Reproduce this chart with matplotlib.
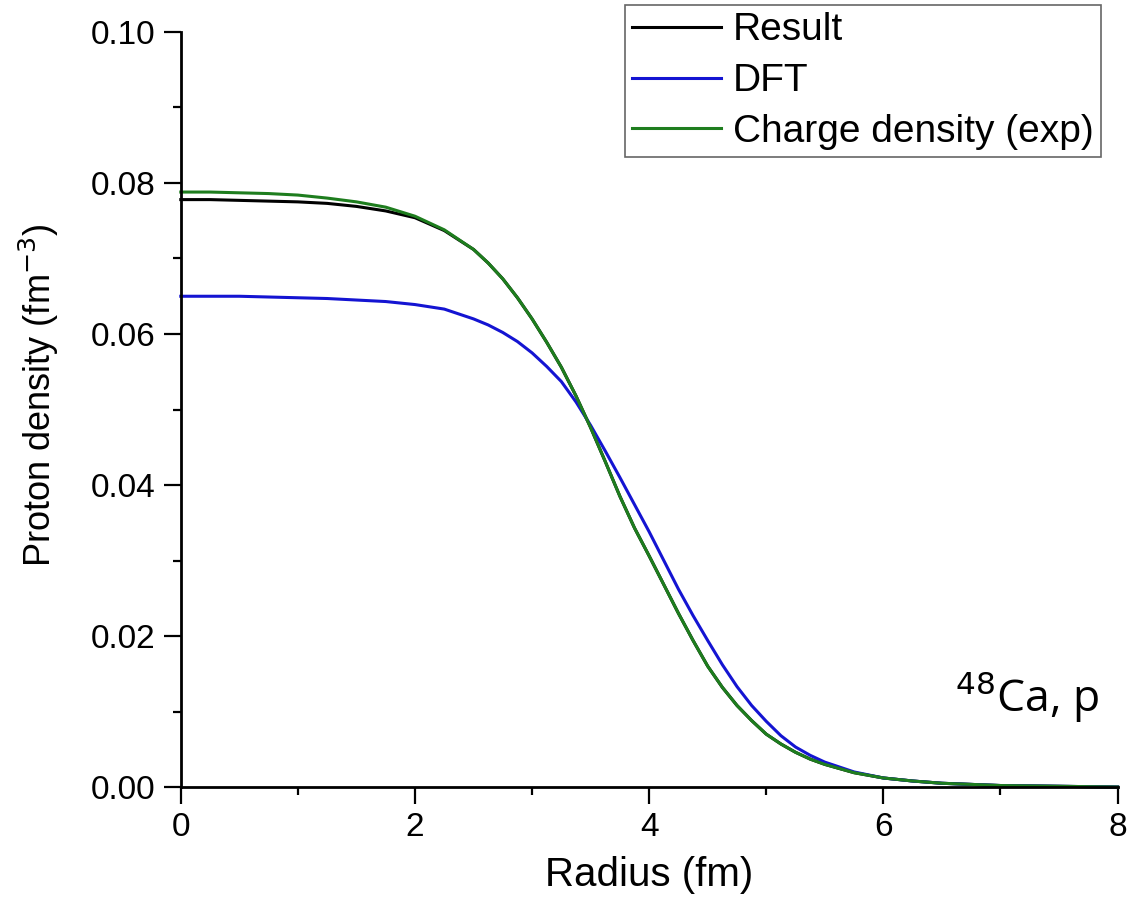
import matplotlib
matplotlib.use("Agg")
import matplotlib.pyplot as plt
from matplotlib.ticker import MultipleLocator, FormatStrFormatter

# radius grid (fm) and densities (fm^-3)
radius = [0.0, 0.25, 0.5, 0.75, 1.0, 1.25, 1.5, 1.75, 2.0, 2.25,
          2.5, 2.625, 2.75, 2.875, 3.0, 3.125, 3.25, 3.375, 3.5, 3.625,
          3.75, 3.875, 4.0, 4.125, 4.25, 4.375, 4.5, 4.625, 4.75, 4.875,
          5.0, 5.125, 5.25, 5.375, 5.5,
          5.75, 6.0, 6.25, 6.5, 7.0, 7.5, 8.0]

result = [0.0778, 0.0778, 0.0777, 0.0776, 0.0775, 0.0773, 0.0769, 0.0763, 0.0754, 0.0737,
          0.0712, 0.0694, 0.0673, 0.0648, 0.0620, 0.0589, 0.0556, 0.0518, 0.0476, 0.0431,
          0.0385, 0.0343, 0.0306, 0.0268, 0.0230, 0.0194, 0.0160, 0.0132, 0.0108, 0.0088,
          0.0070, 0.0057, 0.0046, 0.0037, 0.0030,
          0.0019, 0.0012, 0.0008, 0.0005, 0.0002, 0.0001, 0.0000]

dft = [0.0650, 0.0650, 0.0650, 0.0649, 0.0648, 0.0647, 0.0645, 0.0643, 0.0639, 0.0633,
       0.0620, 0.0612, 0.0602, 0.0590, 0.0575, 0.0557, 0.0537, 0.0510, 0.0479, 0.0445,
       0.0410, 0.0374, 0.0338, 0.0300, 0.0262, 0.0227, 0.0194, 0.0162, 0.0133, 0.0108,
       0.0087, 0.0068, 0.0053, 0.0042, 0.0033,
       0.0020, 0.0012, 0.0008, 0.0005, 0.0002, 0.0001, 0.0000]

charge_exp = [0.0788, 0.0788, 0.0787, 0.0786, 0.0784, 0.0780, 0.0775, 0.0768, 0.0756, 0.0738,
              0.0712, 0.0694, 0.0673, 0.0648, 0.0620, 0.0589, 0.0556, 0.0518, 0.0476, 0.0431,
              0.0385, 0.0343, 0.0306, 0.0268, 0.0230, 0.0194, 0.0160, 0.0132, 0.0108, 0.0088,
              0.0070, 0.0057, 0.0046, 0.0037, 0.0030,
              0.0019, 0.0012, 0.0008, 0.0005, 0.0002, 0.0001, 0.0000]

plt.rcParams['font.family'] = ['Liberation Sans', 'DejaVu Sans']

fig = plt.figure(figsize=(11.3, 9.06), dpi=100)
ax = fig.add_axes([0.160, 0.1313, 0.829, 0.8334])

ax.plot(radius, result, color='black', lw=2.2, label='Result', clip_on=False)
ax.plot(radius, dft, color='#1414d2', lw=2.2, label='DFT', clip_on=False)
ax.plot(radius, charge_exp, color='#1e7d1e', lw=2.2, label='Charge density (exp)',
        clip_on=False)

ax.set_xlim(0, 8)
ax.set_ylim(0, 0.10)
ax.xaxis.set_major_locator(MultipleLocator(2))
ax.xaxis.set_minor_locator(MultipleLocator(1))
ax.yaxis.set_major_locator(MultipleLocator(0.02))
ax.yaxis.set_minor_locator(MultipleLocator(0.01))
ax.yaxis.set_major_formatter(FormatStrFormatter('%.2f'))

for side in ['top', 'right']:
    ax.spines[side].set_visible(False)
for side in ['left', 'bottom']:
    ax.spines[side].set_linewidth(2.0)

ax.tick_params(which='major', direction='out', length=12, width=1.6,
               labelsize=24, pad=6)
ax.tick_params(which='minor', direction='out', length=6, width=1.6)

ax.set_xlabel('Radius (fm)', fontsize=29, labelpad=9)
ax.set_ylabel('Proton density (fm$^{-3}$)', fontsize=26)
ax.yaxis.set_label_coords(-0.128, 0.519)

leg = ax.legend(loc='upper right', bbox_to_anchor=(0.974, 0.994),
                bbox_transform=fig.transFigure, fontsize=28, frameon=True,
                fancybox=False, handlelength=2.3, handletextpad=0.3,
                borderpad=0.18, labelspacing=0.38, borderaxespad=0)
leg.get_frame().set_edgecolor('#404040')
leg.get_frame().set_linewidth(1.2)

ax.text(6.61, 0.0099, '$^{48}$Ca, p', fontsize=32, family=['Open Sans', 'DejaVu Sans'],
        ha='left', va='baseline')

fig.savefig('out.png', dpi=100)
